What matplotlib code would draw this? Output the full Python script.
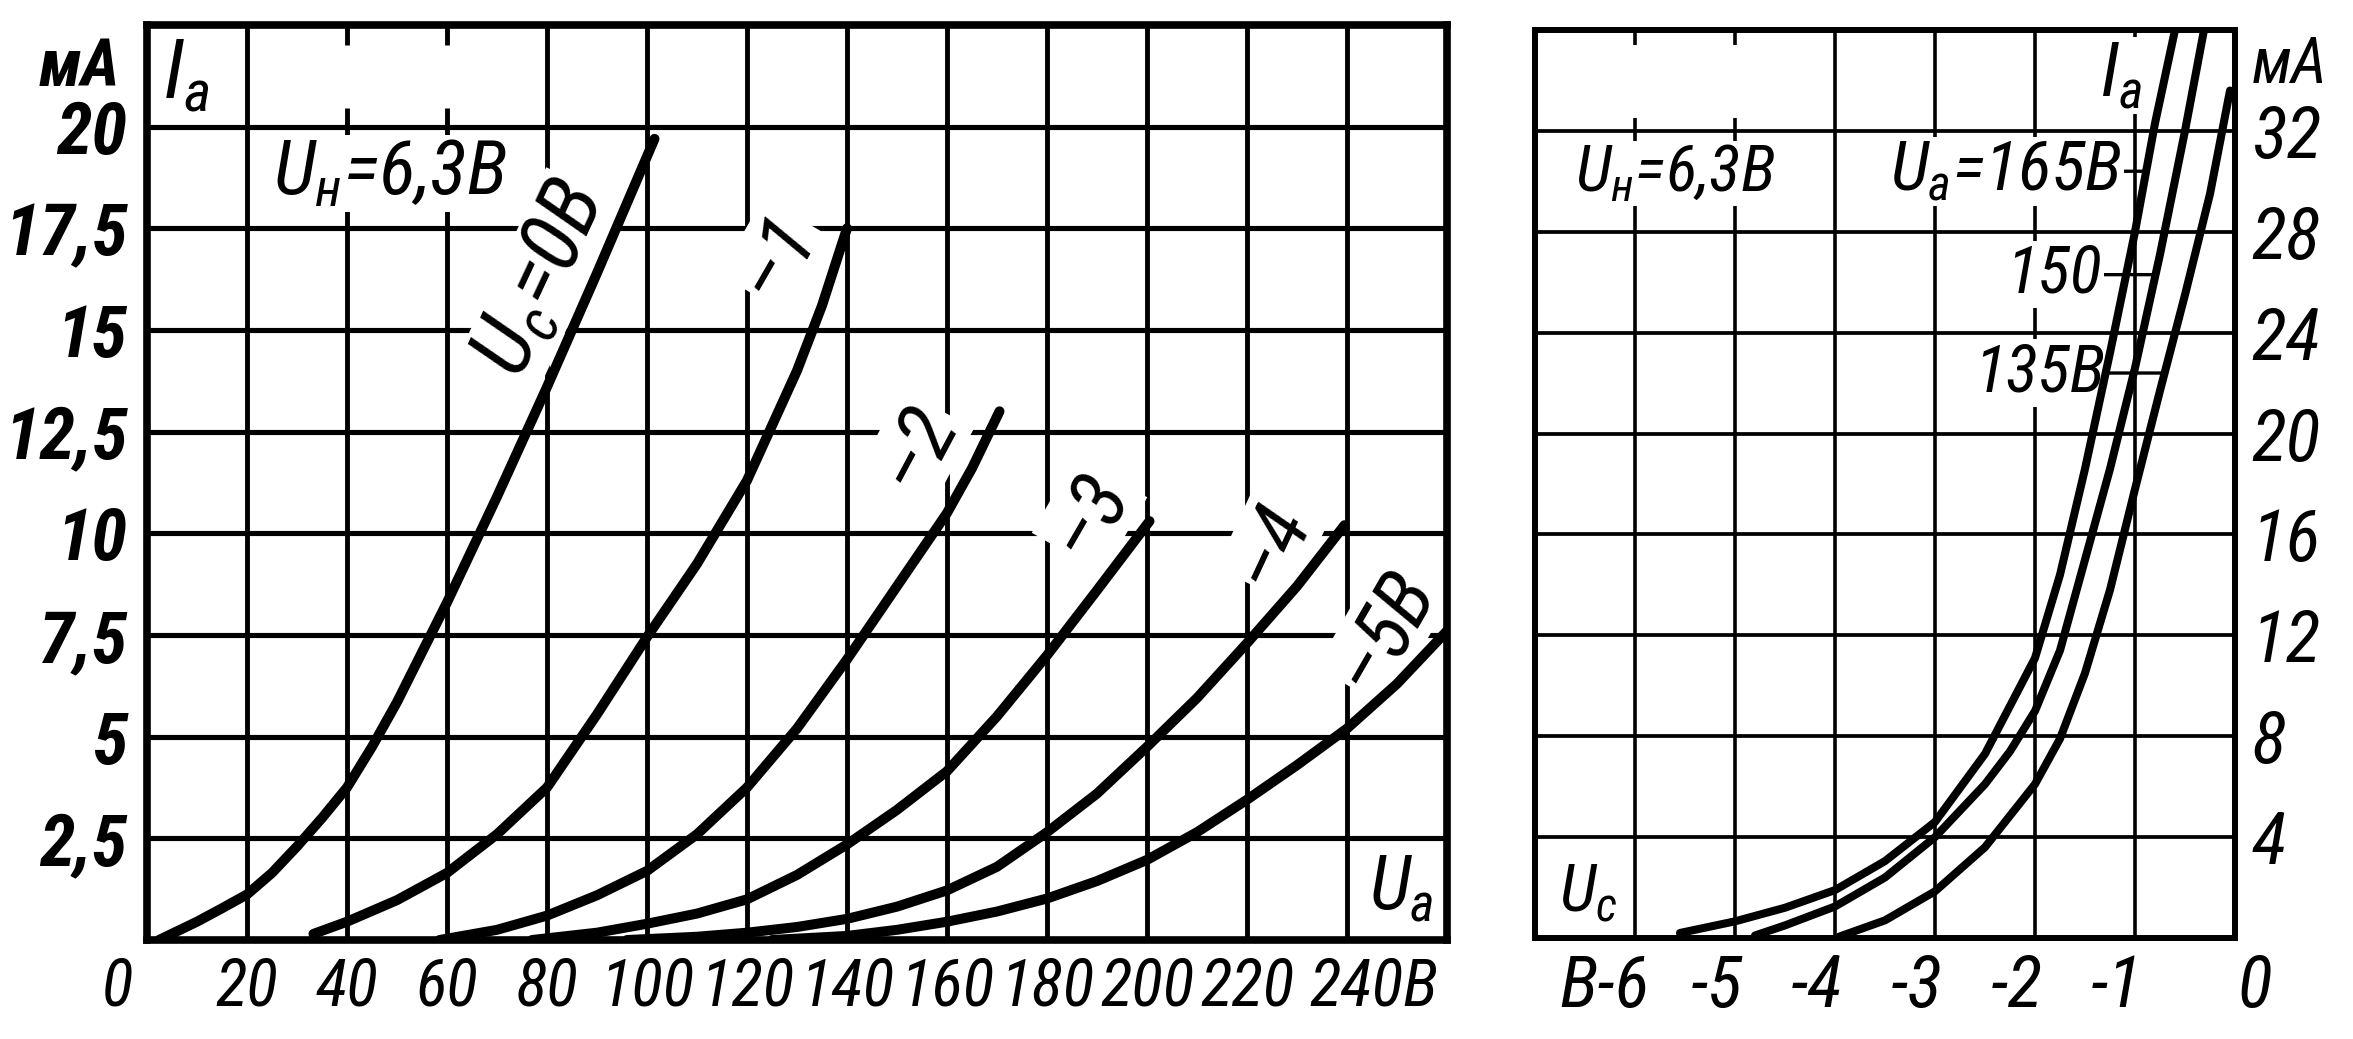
import numpy as np
import matplotlib
matplotlib.use("Agg")
import matplotlib.pyplot as plt
import matplotlib.font_manager as fm
from matplotlib.transforms import ScaledTranslation

# ---------------- data: left panel, Ia (mA) = f(Ua (V)) for grid voltages ----------------
ua_0 = [2.4, 10, 15, 20, 25, 30, 35, 40, 45, 50, 60, 70, 80, 90, 101.5]
ia_0 = [0.0, 0.45, 0.78, 1.12, 1.65, 2.3, 3.0, 3.75, 4.75, 5.85, 8.3, 10.9, 13.6, 16.4, 19.7]

ua_1 = [33.3, 40, 50, 60, 70, 80, 90, 100, 110, 120, 130, 135, 140]
ia_1 = [0.15, 0.45, 0.98, 1.65, 2.6, 3.75, 5.55, 7.45, 9.25, 11.3, 14.0, 15.6, 17.5]

ua_2 = [58.5, 70, 80, 90, 100, 110, 120, 130, 140, 150, 160, 165, 170.5]
ia_2 = [0.0, 0.25, 0.6, 1.1, 1.7, 2.6, 3.75, 5.2, 6.9, 8.7, 10.5, 11.6, 13.0]

ua_3 = [77, 90, 100, 110, 120, 130, 140, 150, 160, 170, 180, 190, 200.5]
ia_3 = [0.0, 0.18, 0.4, 0.65, 1.0, 1.6, 2.35, 3.2, 4.15, 5.5, 7.0, 8.6, 10.3]

ua_4 = [96, 110, 120, 130, 140, 150, 160, 170, 180, 190, 200, 210, 220, 230, 239.5]
ia_4 = [0.0, 0.08, 0.18, 0.32, 0.52, 0.82, 1.22, 1.8, 2.65, 3.6, 4.75, 5.95, 7.3, 8.7, 10.2]

ua_5 = [125, 140, 150, 160, 170, 180, 190, 200, 210, 220, 230, 240, 250, 260]
ia_5 = [0.0, 0.1, 0.25, 0.45, 0.7, 1.02, 1.45, 1.97, 2.65, 3.45, 4.3, 5.2, 6.3, 7.6]

# ---------------- data: right panel, Ia (mA) = f(Uc (V)) for anode voltages ----------------
uc_165 = [-5.55, -5.0, -4.5, -4.0, -3.5, -3.0, -2.5, -2.0, -1.75, -1.5, -1.25, -1.0, -0.8, -0.6]
ia_165 = [0.2, 0.66, 1.2, 1.9, 3.05, 4.6, 7.3, 11.1, 14.4, 18.6, 23.2, 28.0, 32.3, 36.0]

uc_150 = [-4.8, -4.5, -4.0, -3.5, -3.0, -2.5, -2.25, -2.0, -1.75, -1.5, -1.25, -1.0, -0.75, -0.5, -0.31]
ia_150 = [0.1, 0.5, 1.25, 2.4, 4.0, 6.1, 7.4, 9.0, 11.4, 15.0, 18.6, 22.6, 27.1, 32.0, 36.0]

uc_135 = [-3.96, -3.5, -3.0, -2.5, -2.0, -1.75, -1.5, -1.25, -1.0, -0.75, -0.5, -0.25, -0.05]
ia_135 = [0.05, 0.7, 1.85, 3.6, 6.1, 7.9, 10.5, 13.8, 17.8, 21.7, 25.5, 29.5, 33.6]

# ---------------- ticks and labels ----------------
xt_left = [0, 20, 40, 60, 80, 100, 120, 140, 160, 180, 200, 220, 240]
xl_left = ["0", "20", "40", "60", "80", "100", "120", "140", "160", "180", "200", "220", "240В"]
yt_left = [2.5, 5, 7.5, 10, 12.5, 15, 17.5, 20]
yl_left = ["2,5", "5", "7,5", "10", "12,5", "15", "17,5", "20"]
gx_left = [20, 40, 60, 80, 100, 120, 140, 160, 180, 200, 220, 240]
gy_left = [2.5, 5, 7.5, 10, 12.5, 15, 17.5, 20]

xt_right = [-6, -5, -4, -3, -2, -1, 0]
xl_right = ["В-6", "-5", "-4", "-3", "-2", "-1", "0"]
yt_right = [4, 8, 12, 16, 20, 24, 28, 32]
yl_right = ["4", "8", "12", "16", "20", "24", "28", "32"]
gx_right = [-6, -5, -4, -3, -2, -1]
gy_right = [4, 8, 12, 16, 20, 24, 28, 32]

curve_labels = ["–1", "–2", "–3", "–4", "–5В"]
ua_labels = ["$U_а$=165В", "150", "135В"]

# ---------------- fonts ----------------
entries = fm.fontManager.ttflist
names = {f.name for f in entries}
italic_names = {f.name for f in entries if f.style in ("italic", "oblique")}
FAM, STRETCH, XS = None, "normal", 1.0
for cand, xs in [("Liberation Sans Narrow", 1.12), ("Roboto Condensed", 1.18),
                 ("Noto Sans Condensed", 1.05), ("Open Sans Condensed", 1.05),
                 ("DejaVu Sans Condensed", 0.95)]:
    if cand in names and cand in italic_names:
        FAM, XS = cand, xs
        break
if FAM is None:
    FAM = "DejaVu Sans"
    cond = any(f.name == "DejaVu Sans" and "condensed" in str(f.stretch) for f in entries)
    STRETCH = "condensed" if cond else "normal"
    XS = 0.95 if cond else 0.8

plt.rcParams["font.family"] = [FAM, "DejaVu Sans"]
plt.rcParams["font.style"] = "italic"
plt.rcParams["font.stretch"] = STRETCH
plt.rcParams["mathtext.fontset"] = "custom"
plt.rcParams["mathtext.it"] = FAM + ":italic"
plt.rcParams["mathtext.rm"] = FAM + ":italic"
plt.rcParams["mathtext.default"] = "it"

W, H = 2353, 1039
fig = plt.figure(figsize=(W / 100, H / 100), dpi=100)
axL = fig.add_axes([147 / W, 1 - 940 / H, 1300 / W, 915 / H])
axR = fig.add_axes([1535 / W, 1 - 938 / H, 700 / W, 908 / H])

K = "black"
BOX = dict(facecolor="white", edgecolor="none", pad=1.5)

# ---------------- left panel ----------------
axL.set_xlim(0, 260)
axL.set_ylim(0, 22.5)
for sp in axL.spines.values():
    sp.set_linewidth(5.5)
    sp.set_zorder(4)
for x in gx_left:
    if x in (40, 60):
        axL.vlines(x, 0, 20.45, color=K, lw=3.5, zorder=1)
        axL.vlines(x, 22.0, 22.5, color=K, lw=3.5, zorder=1)
    else:
        axL.vlines(x, 0, 22.5, color=K, lw=3.5, zorder=1)
axL.hlines(gy_left, 0, 260, color=K, lw=3.7, zorder=1)

for ua, ia in [(ua_0, ia_0), (ua_1, ia_1), (ua_2, ia_2), (ua_3, ia_3), (ua_4, ia_4), (ua_5, ia_5)]:
    axL.plot(ua, ia, color=K, lw=7.2, solid_capstyle="round", solid_joinstyle="round", zorder=3)

axL.set_xticks(xt_left, xl_left)
axL.set_yticks(yt_left, yl_left)
axL.tick_params(axis="both", length=0)
axL.tick_params(axis="x", pad=11, labelsize=40 * XS)
axL.tick_params(axis="y", pad=14, labelsize=52)
for lab in axL.get_yticklabels():
    lab.set_fontweight("bold")
xlabs = axL.get_xticklabels()
xlabs[0].set_transform(xlabs[0].get_transform() + ScaledTranslation(-0.3, 0, fig.dpi_scale_trans))
xlabs[-1].set_transform(xlabs[-1].get_transform() + ScaledTranslation(0.27, 0, fig.dpi_scale_trans))

axL.text(-13.6, 21.45, "мА", fontsize=48, fontweight="bold", ha="center", va="center", clip_on=False)
axL.text(7.8, 21.25, "$I_а$", fontsize=60, ha="center", va="center", zorder=2)
axL.text(48.5, 18.85, "$U_н$=6,3В", fontsize=55, ha="center", va="center", bbox=BOX, zorder=2)
axL.text(79, 16.25, "$U_с$=0В", fontsize=62, rotation=65, ha="center", va="center",
         rotation_mode="anchor", bbox=BOX, zorder=2)
lab_x = [126, 154, 188.5, 225, 247.5]
lab_y = [16.8, 12.1, 10.45, 9.7, 7.6]
lab_r = [60, 62, 60, 65, 60]
for t, x, y, r in zip(curve_labels, lab_x, lab_y, lab_r):
    axL.text(x, y, t, fontsize=58, rotation=r, ha="center", va="center",
             rotation_mode="anchor", bbox=BOX, zorder=2)
axL.text(250.8, 1.25, "$U_а$", fontsize=54, ha="center", va="center", bbox=BOX, zorder=2)

# ---------------- right panel ----------------
axR.set_xlim(-7, 0)
axR.set_ylim(0, 36)
for sp in axR.spines.values():
    sp.set_linewidth(4.3)
    sp.set_zorder(4)
for x in gx_right:
    if x in (-6, -5):
        axR.vlines(x, 0, 32.5, color=K, lw=2.6, zorder=1)
        axR.vlines(x, 35.4, 36, color=K, lw=2.6, zorder=1)
    else:
        axR.vlines(x, 0, 36, color=K, lw=2.6, zorder=1)
axR.hlines(gy_right, -7, 0, color=K, lw=2.7, zorder=1)

for uc, ia in [(uc_165, ia_165), (uc_150, ia_150), (uc_135, ia_135)]:
    axR.plot(uc, ia, color=K, lw=5.8, solid_capstyle="round", solid_joinstyle="round", zorder=3)

axR.yaxis.tick_right()
axR.set_xticks(xt_right, xl_right)
axR.set_yticks(yt_right, yl_right)
axR.tick_params(axis="both", length=0, labelsize=52)
axR.tick_params(axis="x", pad=11)
axR.tick_params(axis="y", pad=12)
for i, lab in enumerate(axR.get_xticklabels()):
    dx = -0.18
    if i == 0:
        dx = -0.31
    if i == len(xt_right) - 1:
        dx = 0.2
    lab.set_transform(lab.get_transform() + ScaledTranslation(dx, 0, fig.dpi_scale_trans))

axR.text(0.17, 34.6, "мА", fontsize=46, ha="left", va="center", clip_on=False)
axR.text(-1.14, 34.2, "$I_а$", fontsize=54, ha="center", va="center", bbox=BOX, zorder=2)
axR.text(-5.6, 30.3, "$U_н$=6,3В", fontsize=47, ha="center", va="center", bbox=BOX, zorder=2)
axR.text(-6.47, 1.8, "$U_с$", fontsize=48, ha="center", va="center", zorder=2)

# anode-voltage labels with leader lines to their curves
ua_label_ia = [30.4, 26.3, 22.4]
ua_label_x = [-1.13, -1.33, -1.30]
ua_label_fs = [50, 48, 48]
for t, yy, xx, fs, (uc, ia) in zip(ua_labels, ua_label_ia, ua_label_x, ua_label_fs,
                                   [(uc_165, ia_165), (uc_150, ia_150), (uc_135, ia_135)]):
    xc = float(np.interp(yy, ia, uc))
    axR.annotate(t, xy=(xc, yy), xytext=(xx, yy), fontsize=fs, ha="right", va="center",
                 bbox=BOX, zorder=2,
                 arrowprops=dict(arrowstyle="-", lw=2.4, color=K, shrinkA=0, shrinkB=0))

fig.savefig("out.png", dpi=100, facecolor="white")
